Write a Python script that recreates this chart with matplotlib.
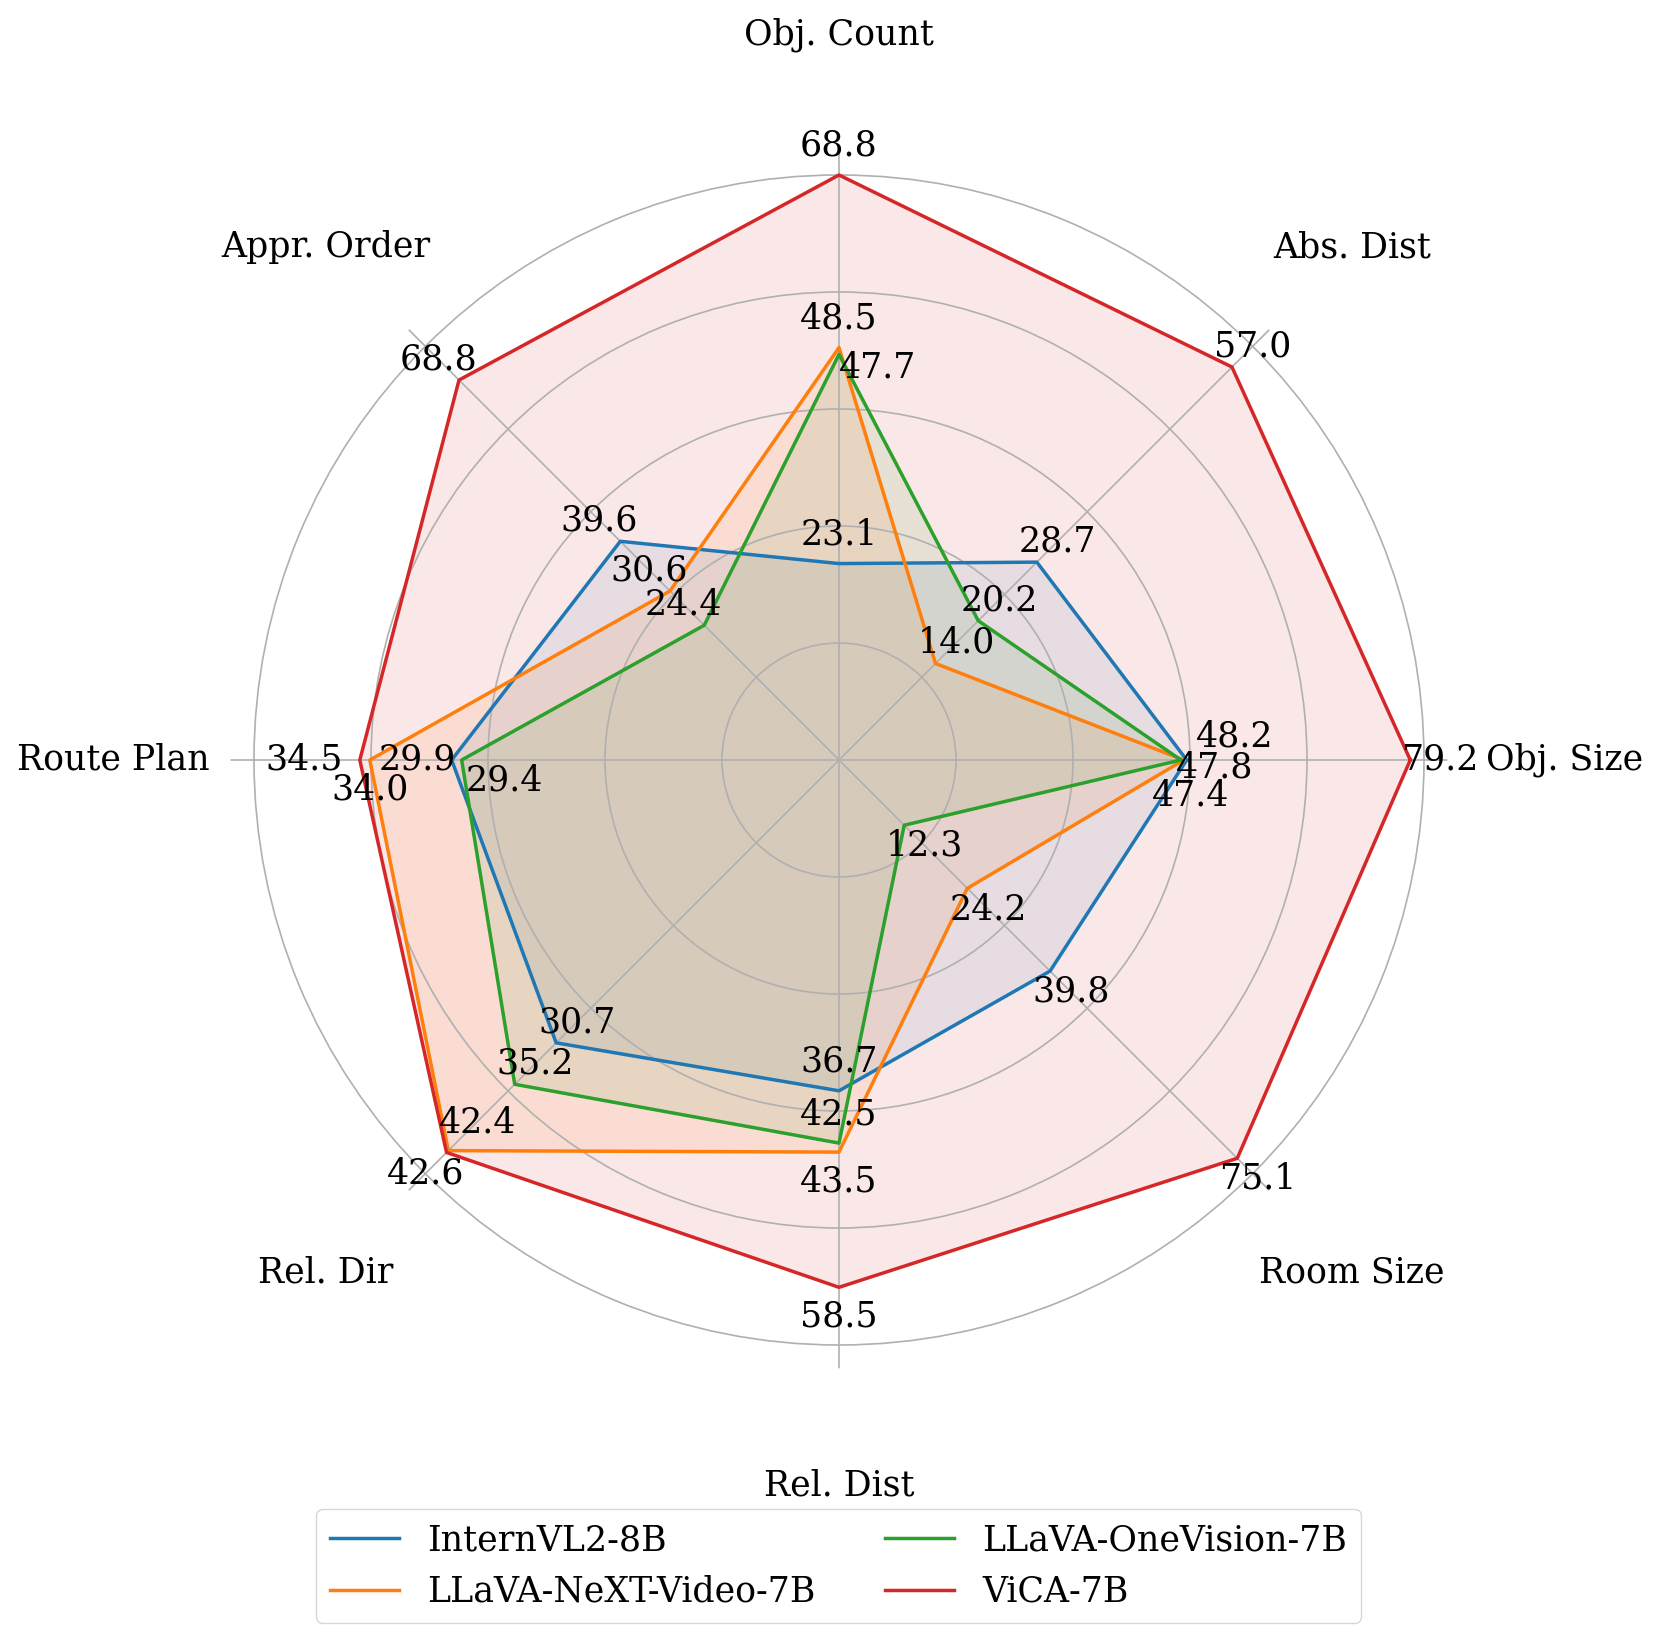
import numpy as np
import matplotlib
matplotlib.use("Agg")
import matplotlib.pyplot as plt

# axes go counter-clockwise starting from the right
categories = ["Obj. Size", "Abs. Dist", "Obj. Count", "Appr. Order",
              "Route Plan", "Rel. Dir", "Rel. Dist", "Room Size"]
models = ["InternVL2-8B", "LLaVA-NeXT-Video-7B", "LLaVA-OneVision-7B", "ViCA-7B"]

internvl = [48.2, 28.7, 23.1, 39.6, 29.9, 30.7, 36.7, 39.8]
llava_next = [47.8, 14.0, 48.5, 30.6, 34.0, 42.4, 43.5, 24.2]
llava_ov = [47.4, 20.2, 47.7, 24.4, 29.4, 35.2, 42.5, 12.3]
vica = [79.2, 57.0, 68.8, 68.8, 34.5, 42.6, 58.5, 75.1]

# value range of each axis, mapped onto radius 0..1
axis_lo = [0.0, 0.0, 0.0, 0.0, 10.5, 0.0, 0.0, 0.0]
axis_hi = [81.1, 60.0, 68.8, 74.9, 39.8, 44.9, 64.9, 78.0]

colors = ["#1f77b4", "#ff7f0e", "#2ca02c", "#d62728"]

# hand placed value labels that would overlap (model, axis) -> pixel offset
label_nudge = {
    (2, 2): (38.5, -13),
    (0, 0): (47.5, 23),
    (1, 0): (30.5, -7.7),
    (2, 0): (10, -36),
    (3, 4): (-55.6, 0),
    (0, 4): (-34, 0),
    (1, 4): (0.6, -29.7),
    (2, 4): (42.7, -21),
    (1, 5): (29, 28.5),
    (2, 5): (20.7, 20.5),
    (0, 5): (21, 20.2),
    (2, 6): (0, 28.5),
    (0, 6): (0, 29.5),
}

plt.rcParams["font.family"] = "serif"
plt.rcParams["font.size"] = 25

fig = plt.figure(figsize=(16.61, 16.38), dpi=100)
ax = fig.add_axes([0.13883, 0.16459, 0.73257, 0.74286], projection="polar")

angles = np.linspace(0, 2 * np.pi, len(categories), endpoint=False)
lo = np.array(axis_lo)
hi = np.array(axis_hi)

series = [internvl, llava_next, llava_ov, vica]
for i, (name, vals) in enumerate(zip(models, series)):
    v = np.array(vals)
    r = (v - lo) / (hi - lo)
    th = np.append(angles, angles[0])
    rr = np.append(r, r[0])
    ax.plot(th, rr, color=colors[i], linewidth=2.5, label=name)
    ax.fill(th, rr, color=colors[i], alpha=0.1)
    for j in range(len(categories)):
        txt = f"{v[j]:.1f}"
        if (i, j) in label_nudge:
            ax.annotate(txt, xy=(angles[j], r[j]), xytext=label_nudge[(i, j)],
                        textcoords="offset pixels", ha="center", va="center")
        else:
            ax.text(angles[j], r[j] + 0.05, txt, ha="center", va="center")

ax.set_ylim(0, 1.04)
ax.set_yticks([0.2, 0.4, 0.6, 0.8, 1.0])
ax.set_yticklabels([])
ax.set_xticks(angles)
ax.set_xticklabels([])
ax.grid(color="#b0b0b0", linewidth=1.2)
ax.spines["polar"].set_visible(False)

for ang, cat in zip(angles, categories):
    ax.text(ang, 1.24, cat, ha="center", va="center")

fig.legend(loc="upper center", bbox_to_anchor=(0.5048, 0.0785), ncol=2,
           borderaxespad=0)

fig.savefig("out.png", dpi=100)
